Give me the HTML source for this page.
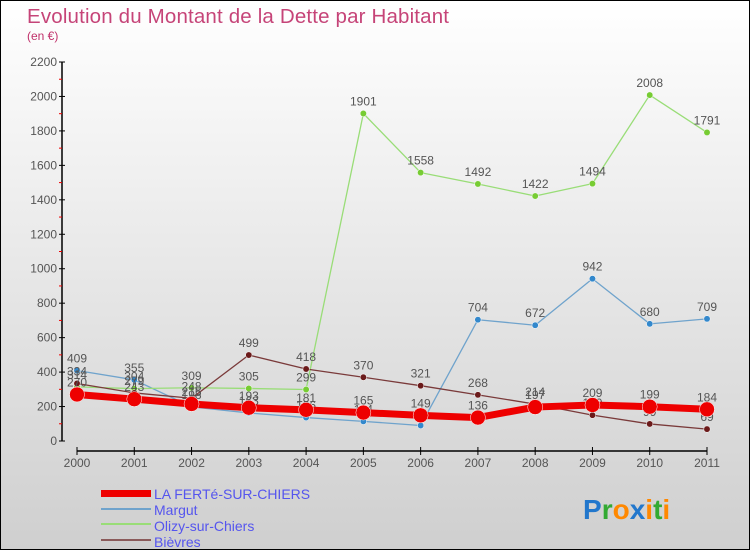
<!DOCTYPE html>
<html><head><meta charset="utf-8">
<style>
html,body{margin:0;padding:0}
body{width:750px;height:550px;overflow:hidden;font-family:"Liberation Sans","DejaVu Sans",sans-serif}
#wrap{position:relative;width:748px;height:548px;border:1px solid #000;background:linear-gradient(#ffffff,#cfcfcf)}
</style></head>
<body>
<div id="wrap">
<svg id="chart" width="748" height="548" xmlns="http://www.w3.org/2000/svg">
<text x="26" y="22" font-size="20.5" fill="#c0306a" textLength="422" style="font-weight:normal;opacity:0.9">Evolution du Montant de la Dette par Habitant</text>
<text x="26" y="39" font-size="12" fill="#c0306a">(en €)</text>
<g id="axes"></g>
<g id="series"></g>
<g id="legend">
<rect x="100" y="489" width="50" height="7" fill="#ee0000"/>
<text x="153" y="498" font-size="14" fill="#5555ee">LA FERTé-SUR-CHIERS</text>
<rect x="100" y="507" width="50" height="2" fill="#6fa3cc"/>
<text x="153" y="514" font-size="14" fill="#5555ee">Margut</text>
<rect x="100" y="522" width="50" height="2" fill="#99dd77"/>
<text x="153" y="530" font-size="14" fill="#5555ee">Olizy-sur-Chiers</text>
<rect x="100" y="538" width="50" height="2" fill="#8a5a5a"/>
<text x="153" y="546" font-size="14" fill="#5555ee">Bièvres</text>
</g>
<g font-size="28" font-weight="bold">
<text x="582" y="518"><tspan fill="#2277cc">P</tspan><tspan fill="#33aa33">r</tspan><tspan fill="#ff8800">o</tspan><tspan fill="#2277cc">x</tspan><tspan fill="#ff8800">i</tspan><tspan fill="#33aa33">t</tspan><tspan fill="#ff8800">i</tspan></text>
</g>
</svg>
</div>
<script>
const years = ["2000","2001","2002","2003","2004","2005","2006","2007","2008","2009","2010","2011"];
const yTicks = [0,200,400,600,800,1000,1200,1400,1600,1800,2000,2200];
const laFerte = [270,243,215,193,181,165,149,136,197,209,199,184];
const margut = [409,355,198,163,136,114,90,704,672,942,680,709];
const olizy = [314,304,309,305,299,1901,1558,1492,1422,1494,2008,1791];
const bievres = [334,279,248,499,418,370,321,268,214,150,99,69];

const NS="http://www.w3.org/2000/svg";
const x0=76,x1=706,yb=440,yt=61,ymax=2200;
function xs(i){return x0+(x1-x0)*i/(years.length-1);}
function ys(v){return yb-(yb-yt)*v/ymax;}
function mk(tag,attrs,parent){const e=document.createElementNS(NS,tag);for(const k in attrs)e.setAttribute(k,attrs[k]);parent.appendChild(e);return e;}
const axes=document.getElementById('axes');
let yl=mk('line',{x1:61,y1:yt,x2:61,y2:yb,stroke:'#000','stroke-width':1.5},axes);


let xl=mk('line',{x1:x0,y1:450,x2:x1,y2:450,stroke:'#000','stroke-width':1.5},axes);


yTicks.forEach((v,i)=>{
  const y=ys(v);
  mk('line',{x1:58,y1:y,x2:64,y2:y,stroke:'#000'},axes);
  if(i<yTicks.length-1){mk('line',{x1:58,y1:ys(v+100),x2:61,y2:ys(v+100),stroke:'#e00'},axes);}
  const t=mk('text',{x:56,y:y+4,'font-size':12,'text-anchor':'end',fill:'#555'},axes);
  t.textContent=v;
  
  
});
years.forEach((yr,i)=>{
  const x=xs(i);
  mk('line',{x1:x,y1:446,x2:x,y2:454,stroke:'#000'},axes);
  const t=mk('text',{x:x,y:466,'font-size':12,'text-anchor':'middle',fill:'#555'},axes);
  t.textContent=yr;
  
  
});
const sg=document.getElementById('series');
function series(vals,color,w,r,dot,name){
  const g=mk('g',{},sg);
  
  
  mk('polyline',{points:vals.map((v,i)=>xs(i)+','+ys(v)).join(' '),fill:'none',stroke:color,'stroke-width':w,'stroke-linejoin':'round'},g);
  vals.forEach((v,i)=>{
    const c=mk('circle',{cx:xs(i),cy:ys(v),r:r,fill:dot,stroke:'#fff','stroke-width':0.5},g);
    
    
    const t=mk('text',{x:xs(i),y:ys(v)-8,'font-size':12,'text-anchor':'middle',fill:'#555'},g);
    t.textContent=v;
    
    
  });
}
series(margut,'#6fa3cc',1.3,3.2,'#3388cc','series-margut');
series(olizy,'#99dd77',1.3,3.2,'#77cc33','series-olizy');
series(bievres,'#7a3a3a',1.3,3.2,'#6b1a1a','series-bievres');
series(laFerte,'#ee0000',7,7.5,'#ee0000','series-la-ferte');
</script>
</body></html>
